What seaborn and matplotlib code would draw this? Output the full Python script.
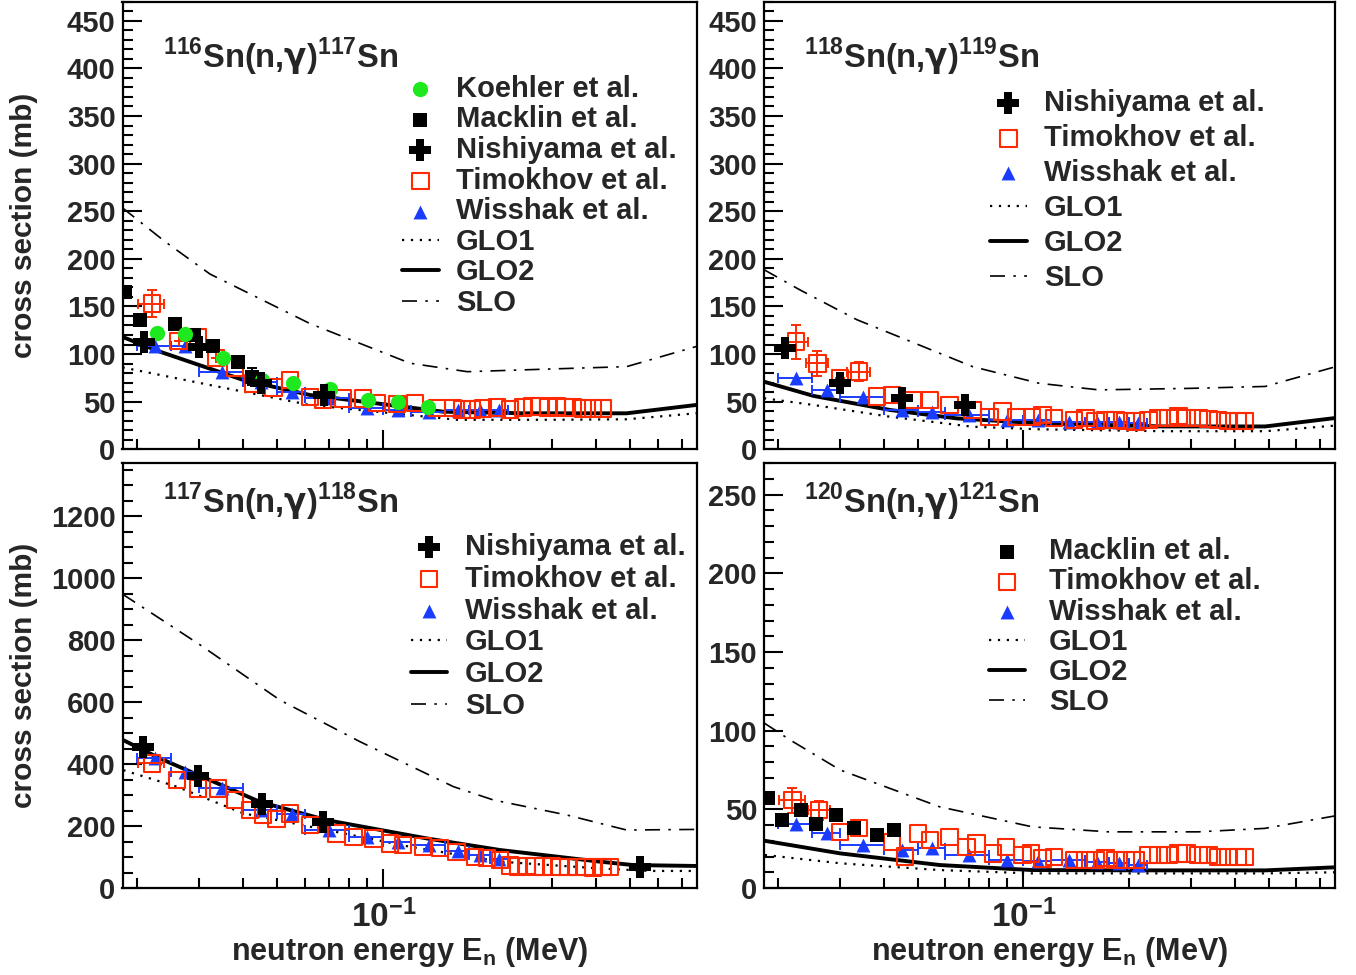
import matplotlib
matplotlib.use("Agg")
import matplotlib.pyplot as plt
import matplotlib.ticker as mticker
import seaborn as sns
import numpy as np

# ---- shared energy grids (MeV) ----
nishiyama_e = [0.0210, 0.0300, 0.0450, 0.0680]
wisshak_e = [0.0225, 0.0275, 0.035, 0.045, 0.055, 0.070, 0.090, 0.110, 0.135, 0.1625, 0.1875, 0.2125]
wisshak_lo = [0.020, 0.025, 0.030, 0.040, 0.050, 0.060, 0.080, 0.100, 0.120, 0.150, 0.175, 0.200]
wisshak_hi = [0.025, 0.030, 0.040, 0.050, 0.060, 0.080, 0.100, 0.120, 0.150, 0.175, 0.200, 0.225]

# ---- 116Sn(n,g)117Sn ----
sn116_slo_e = [0.01825, 0.0241, 0.0323, 0.062, 0.119, 0.173, 0.296, 0.489, 0.78]
sn116_slo = [253.5, 218, 184, 132, 90.4, 81.5, 84.3, 86.8, 108.5]
sn116_glo1_e = [0.01825, 0.0323, 0.062, 0.1617, 0.30, 0.489, 0.78]
sn116_glo1 = [86, 67.5, 46.5, 31, 31, 31.5, 38]
sn116_glo2_e = [0.01825, 0.0233, 0.0401, 0.062, 0.1476, 0.25, 0.489, 0.78]
sn116_glo2 = [118, 102.5, 72.8, 57, 39.5, 37.8, 37.8, 46.8]
sn116_koehler_e = [0.0228, 0.0275, 0.0352, 0.0452, 0.0554, 0.0706, 0.0903, 0.110, 0.134]
sn116_koehler = [122, 121, 95.6, 72.8, 70, 63, 51.8, 50, 44.8]
sn116_macklin_e = [0.01855, 0.0205, 0.0257, 0.0290, 0.0330, 0.0388, 0.0424]
sn116_macklin = [165.5, 136, 132, 120, 108.5, 92, 76]
sn116_macklin_err = [0, 0, 0, 0, 0, 0, 9]
sn116_nishiyama = [113, 107, 69.3, 57]
sn116_timokhov_e = [0.0221, 0.0263, 0.0299, 0.0336, 0.038, 0.0428, 0.0488, 0.0544, 0.062,
                    0.0675, 0.0769, 0.0876, 0.096, 0.1093, 0.123, 0.142, 0.1575, 0.1671,
                    0.1784, 0.1916, 0.2100, 0.2285, 0.2487, 0.2638, 0.2779, 0.2928, 0.3106,
                    0.3271, 0.3446, 0.3679, 0.3928, 0.4193]
sn116_timokhov = [153, 114, 118, 95.6, 86, 69, 65, 72.8, 55, 52, 53.5, 53.5, 48.6, 47.6, 48.6,
                  43.4, 43.4, 42, 42, 43, 44, 42, 44, 45, 45, 44, 45, 44, 44, 43, 43, 43]
sn116_timokhov_yerr = [14, 0, 0, 0]
sn116_timokhov_xerr = [0.0019, 0, 0, 0]
sn116_wisshak = [108, 108, 81.5, 71, 60.5, 54, 43, 41.3, 39.5, 41, 41, 41]

# ---- 118Sn(n,g)119Sn ----
sn118_slo_e = [0.01825, 0.0232, 0.0336, 0.0717, 0.111, 0.164, 0.30, 0.489, 0.78]
sn118_slo = [188.6, 167, 136, 86.8, 69.3, 62.4, 64, 66, 87]
sn118_glo1_e = [0.01825, 0.0253, 0.0417, 0.0717, 0.111, 0.25, 0.489, 0.78]
sn118_glo1 = [53.6, 46.5, 34.2, 23.7, 21, 19, 19, 25]
sn118_glo2_e = [0.01825, 0.0253, 0.0417, 0.0645, 0.111, 0.25, 0.489, 0.78]
sn118_glo2 = [71, 56, 41.3, 32.5, 27.3, 24, 24, 33]
sn118_nishiyama = [106, 69.3, 53.6, 46.5]
sn118_timokhov_e = [0.0225, 0.0259, 0.0301, 0.034, 0.0383, 0.0422, 0.0485, 0.0542, 0.0617,
                    0.0717, 0.0801, 0.0872, 0.0955, 0.106, 0.1134, 0.1224, 0.1394, 0.1505,
                    0.1607, 0.1715, 0.1831, 0.1954, 0.2086, 0.2275, 0.2428, 0.2592, 0.2767,
                    0.2915, 0.3152, 0.3365, 0.3592, 0.3833, 0.4092, 0.4274]
sn118_timokhov = [113, 90.3, 74.6, 81.5, 55.3, 57, 51.8, 51.8, 46.5, 41.3, 34.2, 39.5, 34.2,
                  34.2, 36, 33, 31, 33, 30, 31, 31, 30, 29, 31, 33, 33, 35, 33, 33, 32, 31,
                  30, 30, 30]
sn118_timokhov_yerr = [18, 13, 0, 10]
sn118_timokhov_xerr = [0.0018, 0.0018, 0, 0.0025]
sn118_wisshak = [74.6, 62.3, 55.3, 41.3, 39.5, 36, 30.8, 30.8, 28.7, 28.7, 28.7, 28]

# ---- 117Sn(n,g)118Sn ----
sn117_slo_e = [0.01825, 0.0303, 0.051, 0.0859, 0.158, 0.205, 0.331, 0.489, 0.78]
sn117_slo = [948, 784, 606, 472, 327, 284, 235.5, 187, 189]
sn117_glo1_e = [0.01835, 0.026, 0.0401, 0.062, 0.119, 0.214, 0.411, 0.569, 0.78]
sn117_glo1 = [380, 327, 241, 198, 133, 85, 63, 55, 55]
sn117_glo2_e = [0.01835, 0.0233, 0.0323, 0.0447, 0.0691, 0.1327, 0.214, 0.411, 0.51, 0.78]
sn117_glo2 = [477, 418, 348, 278, 219, 160, 122.6, 85, 74, 71]
sn117_nishiyama_e = [0.0209, 0.0299, 0.0453, 0.0676, 0.534]
sn117_nishiyama = [456, 361, 271, 214, 69]
sn117_timokhov_e = [0.0221, 0.026, 0.0299, 0.034, 0.038, 0.0419, 0.0457, 0.0499, 0.0544,
                    0.062, 0.0738, 0.0823, 0.0937, 0.1044, 0.1137, 0.1295, 0.1447, 0.1614,
                    0.1819, 0.1967, 0.214, 0.2285, 0.2408, 0.2553, 0.269, 0.2834, 0.3006,
                    0.3168, 0.3337, 0.3538, 0.3727, 0.3928, 0.4193, 0.4387]
sn117_timokhov = [402, 348, 321, 321, 284, 252, 235, 222, 241, 203, 176, 165, 160, 144, 139,
                  134, 129, 117, 100, 97, 90, 72, 70, 71, 70, 70, 70, 68, 68, 68, 67, 66,
                  68, 68]
sn117_timokhov_yerr = [0]
sn117_timokhov_xerr = [0.0019]
sn117_wisshak = [418, 375, 321, 252, 239, 187, 165, 149, 139, 118, 106, 92]

# ---- 120Sn(n,g)121Sn ----
sn120_slo_e = [0.01823, 0.0217, 0.0301, 0.0578, 0.106, 0.175, 0.315, 0.487, 0.78]
sn120_slo = [105, 94, 75, 51.6, 38.9, 35.7, 35.7, 37.9, 46]
sn120_glo1_e = [0.01835, 0.0301, 0.0578, 0.106, 0.489, 0.78]
sn120_glo1 = [21, 15.7, 11.4, 9.3, 9.3, 10]
sn120_glo2_e = [0.01835, 0.0301, 0.0578, 0.106, 0.25, 0.489, 0.78]
sn120_glo2 = [30, 22, 14.6, 11.4, 11.2, 11.2, 13.2]
sn120_macklin_e = [0.0187, 0.0206, 0.0232, 0.0256, 0.0292, 0.0329, 0.0383, 0.0427]
sn120_macklin = [57, 43.1, 49.5, 41, 46.3, 38, 33.6, 36.8]
sn120_macklin_err = [0, 0, 0, 0, 0, 0, 0, 0]
sn120_timokhov_e = [0.022, 0.0262, 0.0301, 0.034, 0.0422, 0.0461, 0.0502, 0.0542, 0.0617,
                    0.0688, 0.0735, 0.0819, 0.0894, 0.0995, 0.1051, 0.1134, 0.1224, 0.1394,
                    0.1505, 0.1607, 0.1715, 0.1831, 0.1954, 0.2086, 0.2275, 0.2428, 0.2592,
                    0.2767, 0.2915, 0.3152, 0.3365, 0.3592, 0.3833, 0.4092, 0.4274]
sn120_timokhov = [55.8, 49.5, 35.7, 38, 29.4, 19.9, 34.7, 30.5, 32.6, 26.2, 28.4, 22, 26.2,
                  20.9, 22, 18.8, 19.7, 17.8, 17.8, 17.8, 19, 17.8, 17.8, 17.8, 21, 21, 21,
                  22, 22, 21, 21, 19.7, 19.7, 19.7, 19.7]
sn120_timokhov_yerr = [8, 6]
sn120_timokhov_xerr = [0.0019, 0.0019]
sn120_wisshak = [41, 34.7, 27.3, 24.1, 25.2, 20.9, 17.8, 16.9, 17.8, 16.5, 16, 14.6]

RED = '#ff2a00'
BLUE = '#1a3cff'
GREEN = '#1ee81e'

sns.set_theme(style='white')
plt.rcParams['font.family'] = ['Liberation Sans', 'DejaVu Sans']
plt.rcParams['font.weight'] = 'bold'
plt.rcParams['mathtext.fontset'] = 'custom'
plt.rcParams['mathtext.rm'] = 'Liberation Sans:bold'
plt.rcParams['mathtext.bf'] = 'Liberation Sans:bold'
plt.rcParams['mathtext.it'] = 'DejaVu Sans'
plt.rcParams['mathtext.sf'] = 'Liberation Sans:bold'
plt.rcParams['axes.unicode_minus'] = True

fig = plt.figure(figsize=(13.56, 9.75), dpi=100)

W = 1356.0
H = 975.0
top_b, top_h = 1 - 449.3 / H, 447.6 / H
bot_b, bot_h = 1 - 888.0 / H, 424.7 / H
left_l, left_w = 122.5 / W, 574.2 / W
right_l, right_w = 764.0 / W, 571.0 / W

panels = [
    dict(rect=[left_l, top_b, left_w, top_h], title=r"$^{116}$Sn(n,$\gamma$)$^{117}$Sn",
         ylim=470, ymaj=50, ymin=10,
         slo=(sn116_slo_e, sn116_slo), glo1=(sn116_glo1_e, sn116_glo1), glo2=(sn116_glo2_e, sn116_glo2),
         koehler=(sn116_koehler_e, sn116_koehler), macklin=(sn116_macklin_e, sn116_macklin, sn116_macklin_err),
         nishiyama=(nishiyama_e, sn116_nishiyama),
         timokhov=(sn116_timokhov_e, sn116_timokhov, sn116_timokhov_yerr, sn116_timokhov_xerr),
         wisshak=sn116_wisshak, leg=(0.487, 0.837), lsp=0.09, tpad=0.6,
         xlabel=False, ylabel=True),
    dict(rect=[right_l, top_b, right_w, top_h], title=r"$^{118}$Sn(n,$\gamma$)$^{119}$Sn",
         ylim=470, ymaj=50, ymin=10,
         slo=(sn118_slo_e, sn118_slo), glo1=(sn118_glo1_e, sn118_glo1), glo2=(sn118_glo2_e, sn118_glo2),
         nishiyama=(nishiyama_e, sn118_nishiyama),
         timokhov=(sn118_timokhov_e, sn118_timokhov, sn118_timokhov_yerr, sn118_timokhov_xerr),
         wisshak=sn118_wisshak, leg=(0.396, 0.805), lsp=0.24, tpad=0.6,
         xlabel=False, ylabel=False),
    dict(rect=[left_l, bot_b, left_w, bot_h], title=r"$^{117}$Sn(n,$\gamma$)$^{118}$Sn",
         ylim=1370, ymaj=200, ymin=50,
         slo=(sn117_slo_e, sn117_slo), glo1=(sn117_glo1_e, sn117_glo1), glo2=(sn117_glo2_e, sn117_glo2),
         nishiyama=(sn117_nishiyama_e, sn117_nishiyama),
         timokhov=(sn117_timokhov_e, sn117_timokhov, sn117_timokhov_yerr, sn117_timokhov_xerr),
         wisshak=sn117_wisshak, leg=(0.502, 0.836), lsp=0.13, tpad=0.6,
         xlabel=True, ylabel=True),
    dict(rect=[right_l, bot_b, right_w, bot_h], title=r"$^{120}$Sn(n,$\gamma$)$^{121}$Sn",
         ylim=270, ymaj=50, ymin=10,
         slo=(sn120_slo_e, sn120_slo), glo1=(sn120_glo1_e, sn120_glo1), glo2=(sn120_glo2_e, sn120_glo2),
         macklin=(sn120_macklin_e, sn120_macklin, sn120_macklin_err),
         timokhov=(sn120_timokhov_e, sn120_timokhov, sn120_timokhov_yerr, sn120_timokhov_xerr),
         wisshak=sn120_wisshak, leg=(0.394, 0.826), lsp=0.075, tpad=0.8,
         xlabel=True, ylabel=False),
]

order = ['Koehler et al.', 'Macklin et al.', 'Nishiyama et al.', 'Timokhov et al.',
         'Wisshak et al.', 'GLO1', 'GLO2', 'SLO']

for p in panels:
    ax = fig.add_axes(p['rect'])
    ax.set_xscale('log')

    # model curves
    sns.lineplot(x=p['glo1'][0], y=p['glo1'][1], ax=ax, color='black', lw=1.6,
                 linestyle=(0, (1, 3)), sort=False, estimator=None, label='GLO1')
    sns.lineplot(x=p['glo2'][0], y=p['glo2'][1], ax=ax, color='black', lw=2.8,
                 sort=False, estimator=None, label='GLO2')
    sns.lineplot(x=p['slo'][0], y=p['slo'][1], ax=ax, color='black', lw=1.2,
                 linestyle=(0, (9, 5, 1.5, 5)), sort=False, estimator=None, label='SLO')

    # Wisshak (blue triangles with energy bins)
    we = np.array(wisshak_e)
    xerr = [we - np.array(wisshak_lo), np.array(wisshak_hi) - we]
    ax.errorbar(we, p['wisshak'], xerr=xerr, fmt='none', ecolor=BLUE, elinewidth=1.4,
                capsize=3.5, capthick=1.4, zorder=3)
    sns.scatterplot(x=wisshak_e, y=p['wisshak'], ax=ax, marker='^', s=100, color=BLUE,
                    edgecolor=BLUE, linewidth=0, zorder=4, label='Wisshak et al.')

    # Timokhov (open red squares)
    te, tv, tyerr, txerr = p['timokhov']
    n = len(tyerr)
    ax.errorbar(te[:n], tv[:n], yerr=tyerr, xerr=txerr, fmt='none', ecolor=RED,
                elinewidth=1.4, capsize=3.5, capthick=1.4, zorder=4)
    sns.scatterplot(x=te, y=tv, ax=ax, marker='s', s=140, color=RED, facecolor='none',
                    edgecolor=RED, linewidth=1.5, zorder=5, label='Timokhov et al.')

    if 'macklin' in p:
        me, mv, merr = p['macklin']
        ax.errorbar(me, mv, yerr=merr, fmt='none', ecolor='black', elinewidth=1.4,
                    capsize=3.5, capthick=1.4, zorder=5)
        sns.scatterplot(x=me, y=mv, ax=ax, marker='s', s=110, color='black',
                        edgecolor='black', linewidth=0, zorder=6, label='Macklin et al.')
    if 'koehler' in p:
        sns.scatterplot(x=p['koehler'][0], y=p['koehler'][1], ax=ax, marker='o', s=120,
                        color=GREEN, edgecolor=GREEN, linewidth=0, zorder=7,
                        label='Koehler et al.')
    if 'nishiyama' in p:
        sns.scatterplot(x=p['nishiyama'][0], y=p['nishiyama'][1], ax=ax, marker='P', s=230,
                        color='black', edgecolor='black', linewidth=0, zorder=8,
                        label='Nishiyama et al.')

    ax.set_xlim(0.01825, 0.7725)
    ax.set_ylim(0, p['ylim'])
    ax.yaxis.set_major_locator(mticker.MultipleLocator(p['ymaj']))
    ax.yaxis.set_minor_locator(mticker.MultipleLocator(p['ymin']))
    ax.xaxis.set_minor_formatter(mticker.NullFormatter())

    for sp in ax.spines.values():
        sp.set_linewidth(1.6)
        sp.set_color('black')
    ax.tick_params(axis='both', which='both', direction='in', top=False, right=False,
                   bottom=True, left=True, width=1.5, color='black')
    ax.tick_params(axis='y', which='major', length=14, labelsize=21, pad=5)
    ax.tick_params(axis='y', which='minor', length=7)
    ax.tick_params(axis='x', which='major', length=14, labelsize=24, pad=8)
    ax.tick_params(axis='x', which='minor', length=7)
    for lab in ax.get_yticklabels() + ax.get_xticklabels():
        lab.set_fontweight('bold')
    if not p['xlabel']:
        ax.tick_params(axis='x', which='both', labelbottom=False)
    else:
        ax.set_xlabel(r"neutron energy E$_{\mathbf{n}}$ (MeV)", fontsize=22,
                      fontweight='bold', labelpad=1)
    if p['ylabel']:
        ax.set_ylabel('cross section (mb)', fontsize=21.5, fontweight='bold')
        ax.yaxis.set_label_coords(-0.147, 0.5)
    else:
        ax.set_ylabel('')

    ax.text(0.07, 0.852 if p['ylim'] == 470 else 0.883, p['title'], transform=ax.transAxes,
            fontsize=23.5, fontweight='bold', ha='left', va='baseline')

    handles, labels = ax.get_legend_handles_labels()
    hmap = dict(zip(labels, handles))
    keys = [k for k in order if k in hmap]
    ax.legend([hmap[k] for k in keys], keys, loc='upper left', bbox_to_anchor=p['leg'],
              frameon=False, prop={'size': 21, 'weight': 'bold'}, handlelength=1.25,
              handletextpad=p['tpad'], labelspacing=p['lsp'], borderpad=0, borderaxespad=0,
              scatterpoints=1)

fig.savefig('out.png', dpi=100)
